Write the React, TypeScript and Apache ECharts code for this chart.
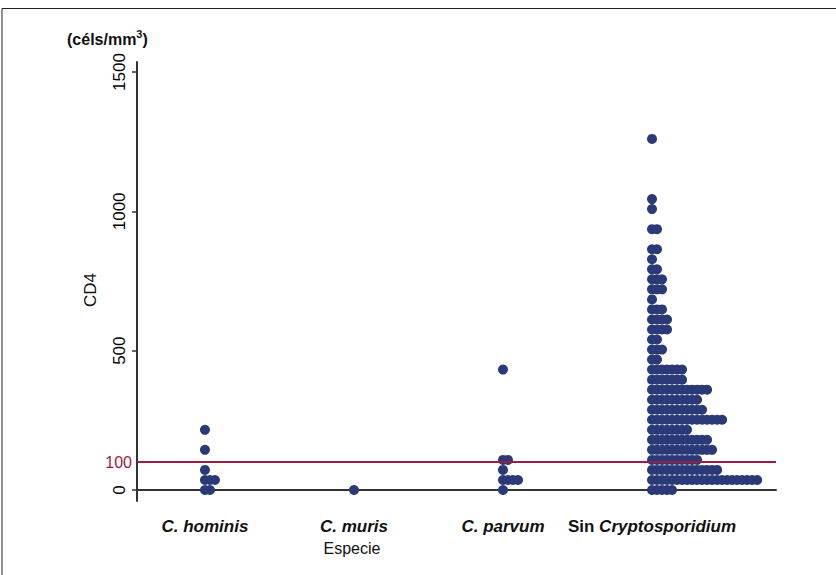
import React, { useEffect, useRef } from "react";
import * as echarts from "echarts";

// ---- Data ----
const categories = ["C. hominis", "C. muris", "C. parvum", "Sin Cryptosporidium"];
const yTicks = [0, 500, 1000, 1500];
const xTicks = [1, 2, 3, 4];
const threshold = 100;

// CD4 bin values (céls/mm³) and number of patients in each bin
const hominisCD4 = [0, 36, 72, 144, 216];
const hominisCount = [2, 3, 1, 1, 1];

const murisCD4 = [0];
const murisCount = [1];

const parvumCD4 = [0, 36, 72, 108, 432];
const parvumCount = [1, 4, 1, 2, 1];

const sinCD4 = [
  0, 36, 72, 108, 144, 180, 216, 252, 288, 324, 360, 396, 432, 468, 504, 540,
  576, 612, 648, 684, 720, 756, 792, 828, 864, 936, 1008, 1044, 1260,
];
const sinCount = [
  5, 22, 14, 10, 13, 12, 8, 15, 11, 10, 12, 7, 7, 2, 3, 2, 4, 4, 3, 1, 3, 3, 2,
  1, 2, 2, 1, 1, 1,
];

const groups = [
  { values: hominisCD4, counts: hominisCount },
  { values: murisCD4, counts: murisCount },
  { values: parvumCD4, counts: parvumCount },
  { values: sinCD4, counts: sinCount },
];

const FONT = "'Liberation Sans', Arial, sans-serif";
const DOT = "#2a3a78";
const RED = "#9b1c3c";
const AXIS = "#333333";
const STACK_STEP = 0.0336; // horizontal offset between stacked dots (x units)

function buildPoints(): number[][] {
  const pts: number[][] = [];
  groups.forEach((g, gi) => {
    g.values.forEach((v, i) => {
      for (let j = 0; j < g.counts[i]; j++) {
        pts.push([gi + 1 + j * STACK_STEP, v]);
      }
    });
  });
  return pts;
}

export default function App() {
  const ref = useRef<HTMLDivElement>(null);

  useEffect(() => {
    if (!ref.current) return;
    const chart = echarts.init(ref.current, null, { renderer: "svg" });

    const option: any = {
      animation: false,
      backgroundColor: "#ffffff",
      textStyle: { fontFamily: FONT },
      grid: {
        left: 137,
        right: 60,
        top: 62,
        bottom: 74,
        containLabel: false,
        outerBoundsMode: "none",
      },
      xAxis: {
        type: "value",
        min: 0.544,
        max: 4.832,
        splitLine: { show: false },
        axisLine: { show: true, lineStyle: { color: AXIS, width: 2 } },
        axisTick: {
          show: true,
          customValues: xTicks,
          length: 5,
          lineStyle: { color: AXIS, width: 1.5 },
        },
        axisLabel: {
          customValues: xTicks,
          margin: 17,
          formatter: (v: number) => {
            const name = categories[Math.round(v) - 1] || "";
            if (name.startsWith("Sin ")) {
              return "{n|Sin }{i|" + name.slice(4) + "}";
            }
            return "{i|" + name + "}";
          },
          rich: {
            i: {
              fontFamily: FONT,
              fontSize: 17,
              fontStyle: "italic",
              fontWeight: "bold",
              color: "#111",
            },
            n: {
              fontFamily: FONT,
              fontSize: 17,
              fontWeight: "bold",
              color: "#111",
            },
          },
        },
      },
      yAxis: {
        type: "value",
        min: -39.5,
        max: 1536,
        splitLine: { show: false },
        axisLine: { show: true, lineStyle: { color: AXIS, width: 2 } },
        axisTick: {
          show: true,
          customValues: yTicks,
          length: 5,
          lineStyle: { color: AXIS, width: 1.5 },
        },
        axisLabel: {
          customValues: yTicks,
          formatter: (v: number) => String(Math.round(v)),
          rotate: 90,
          margin: 9,
          fontFamily: FONT,
          fontSize: 17,
          color: "#000",
        },
      },
      series: [
        {
          type: "line",
          data: [],
          z: 1,
          silent: true,
          markLine: {
            silent: true,
            symbol: ["none", "none"],
            lineStyle: { color: RED, width: 2, type: "solid" },
            label: {
              show: true,
              position: "start",
              formatter: String(threshold),
              color: RED,
              fontFamily: FONT,
              fontSize: 16,
              distance: 5,
            },
            data: [{ yAxis: threshold }],
          },
        },
        {
          type: "scatter",
          z: 3,
          symbol: "circle",
          symbolSize: 10,
          itemStyle: { color: DOT, opacity: 1 },
          data: buildPoints(),
        },
      ],
      graphic: [
        {
          type: "polyline",
          shape: { points: [[2, 575], [2, 8.5], [836, 8.5]] },
          style: { stroke: "#222", lineWidth: 1, fill: "none" },
          silent: true,
        },
        {
          type: "text",
          x: 67,
          y: 38,
          style: {
            text: "{a|(céls/mm}{s|3}{a|)}",
            verticalAlign: "middle",
            align: "left",
            rich: {
              a: {
                fontFamily: FONT,
                fontSize: 16,
                fontWeight: "bold",
                fill: "#111",
                lineHeight: 19,
                verticalAlign: "bottom",
              },
              s: {
                fontFamily: FONT,
                fontSize: 11,
                fontWeight: "bold",
                fill: "#111",
                lineHeight: 11,
                verticalAlign: "top",
              },
            },
          },
        },
        {
          type: "text",
          x: 90,
          y: 290,
          rotation: Math.PI / 2,
          style: {
            text: "CD4",
            align: "center",
            verticalAlign: "middle",
            fontFamily: FONT,
            fontSize: 17,
            fill: "#111",
          },
        },
        {
          type: "text",
          x: 352,
          y: 548,
          style: {
            text: "Especie",
            align: "center",
            verticalAlign: "middle",
            fontFamily: FONT,
            fontSize: 16,
            fill: "#111",
          },
        },
      ],
    };

    chart.setOption(option);
    return () => chart.dispose();
  }, []);

  return (
    <div
      ref={ref}
      style={{ position: "absolute", left: 0, top: 0, width: 836, height: 575 }}
    />
  );
}
